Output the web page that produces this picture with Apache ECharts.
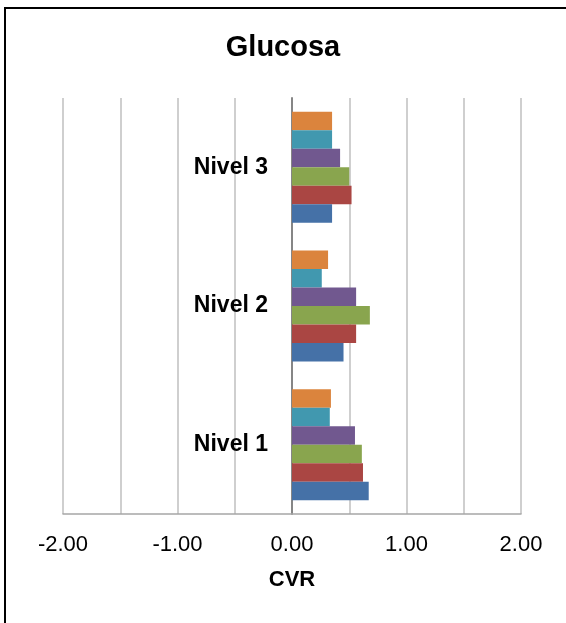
<!DOCTYPE html>
<html><head><meta charset="utf-8">
<script src="https://cdn.jsdelivr.net/npm/echarts@6/dist/echarts.min.js"></script>
<style>html,body{margin:0;padding:0;background:#fff}#c{width:566px;height:623px}</style>
</head><body><div id="c"></div>
<script>
const categories = ['Nivel 1', 'Nivel 2', 'Nivel 3'];
const seriesNames = ['S1', 'S2', 'S3', 'S4', 'S5', 'S6'];
const s1 = [0.67, 0.45, 0.35];
const s2 = [0.62, 0.56, 0.52];
const s3 = [0.61, 0.68, 0.50];
const s4 = [0.55, 0.56, 0.42];
const s5 = [0.33, 0.26, 0.35];
const s6 = [0.34, 0.315, 0.35];
const xTicks = ['-2.00', '-1.00', '0.00', '1.00', '2.00'];
const colors = ['#4571A7', '#AA4643', '#89A54E', '#71588F', '#4198AF', '#DB843D'];
const values = [s1, s2, s3, s4, s5, s6];

const font = '"Liberation Sans", Arial, sans-serif';
const chart = echarts.init(document.getElementById('c'), null, {renderer: 'canvas'});
// ECharts stacks the first series at the top of a horizontal band; reverse so S1 is at the bottom
const series = values.map((v, i) => ({
  name: seriesNames[i], type: 'bar', data: v,
  barGap: '0%', barCategoryGap: '20%',
  itemStyle: {color: colors[i]}
})).reverse();
chart.setOption({
  animation: false,
  title: {text: 'Glucosa', left: 'center', top: 28,
    textStyle: {fontFamily: font, fontSize: 29, fontWeight: 'bold', color: '#000'}},
  graphic: [{type: 'rect', shape: {x: 5, y: 8, width: 600, height: 700},
    style: {fill: 'none', stroke: '#000', lineWidth: 2}, silent: true, z: 100}],
  grid: {left: 63, right: 45, top: 98, bottom: 109, containLabel: false, outerBoundsMode: 'none'},
  xAxis: {type: 'value', min: -2, max: 2, interval: 0.5,
    axisLine: {show: true, onZero: false, lineStyle: {color: '#A6A6A6', width: 1.5}},
    axisTick: {show: false},
    splitLine: {show: true, lineStyle: {color: '#BFBFBF', width: 1.5}},
    axisLabel: {margin: 20, fontFamily: font, fontSize: 22, color: '#000',
      formatter: function (v) { const i = xTicks.indexOf(v.toFixed(2)); return Number.isInteger(v) && i >= 0 ? xTicks[i] : ''; }},
    name: 'CVR', nameLocation: 'middle', nameGap: 55,
    nameTextStyle: {fontFamily: font, fontSize: 22, fontWeight: 'bold', color: '#000'}},
  yAxis: {type: 'category', data: categories,
    axisLine: {show: true, onZero: true, lineStyle: {color: '#868686', width: 2}},
    axisTick: {show: false},
    splitLine: {show: false},
    axisLabel: {margin: -205, fontFamily: font, fontSize: 23, fontWeight: 'bold', color: '#000'}},
  series: series
});
</script></body></html>
